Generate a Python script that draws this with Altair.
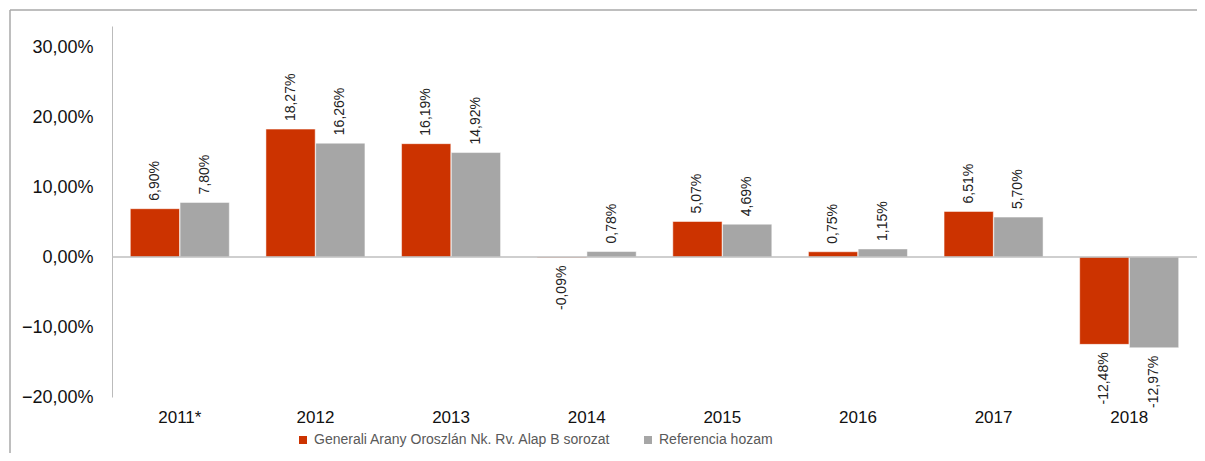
import altair as alt
import pandas as pd

years = ["2011*", "2012", "2013", "2014", "2015", "2016", "2017", "2018"]
series = ["Generali Arany Oroszlán Nk. Rv. Alap B sorozat", "Referencia hozam"]
fund = [6.90, 18.27, 16.19, -0.09, 5.07, 0.75, 6.51, -12.48]
ref = [7.80, 16.26, 14.92, 0.78, 4.69, 1.15, 5.70, -12.97]
y_ticks = [-20, -10, 0, 10, 20, 30]
colors = ["#CC3300", "#A6A6A6"]

rows = []
for i, yr in enumerate(years):
    for s, vals in zip(series, [fund, ref]):
        v = vals[i]
        rows.append({"year": yr, "series": s, "value": v,
                     "label": f"{v:.2f}".replace(".", ",") + "%"})
df = pd.DataFrame(rows)

font = "Liberation Sans"

base = alt.Chart(df).encode(
    x=alt.X("year:N", sort=years, title=None,
            scale=alt.Scale(paddingInner=0.27, paddingOuter=0.135),
            axis=alt.Axis(domain=False, ticks=False, labelAngle=0, labelFontSize=17,
                          labelFont=font, labelColor="#111111", labelPadding=12)),
    xOffset=alt.XOffset("series:N", sort=series, scale=alt.Scale(paddingInner=0.01)),
)

bars = base.mark_bar(stroke="white", strokeWidth=0.5).encode(
    y=alt.Y("value:Q", title=None,
            scale=alt.Scale(domain=[-20, 33], nice=False, zero=False),
            axis=alt.Axis(values=y_ticks, grid=False, ticks=False, domain=True,
                          domainColor="#BBBBBB", domainWidth=1,
                          labelFontSize=18, labelFont=font, labelColor="#111111",
                          labelPadding=19,
                          labelExpr="replace(format(datum.value, '.2f'), '.', ',') + '%'")),
    color=alt.Color("series:N", sort=series,
                    scale=alt.Scale(domain=series, range=colors),
                    legend=alt.Legend(title=None, orient="none", legendX=184, legendY=407,
                                      direction="horizontal", symbolType="square",
                                      symbolSize=64, symbolStrokeWidth=0,
                                      labelFontSize=14, labelFont=font, labelLimit=0,
                                      labelColor="#595959", labelOffset=4,
                                      columnPadding=30, padding=0)),
)

pos_labels = base.transform_filter("datum.value >= 0").mark_text(
    angle=270, align="left", baseline="middle", dx=8, fontSize=14, font=font,
    color="#222222").encode(y="value:Q", text="label:N")

neg_labels = base.transform_filter("datum.value < 0").mark_text(
    angle=270, align="right", baseline="middle", dx=-8, fontSize=14, font=font,
    color="#222222").encode(y="value:Q", text="label:N")

zero_df = pd.DataFrame({"z": [0]})
zero = alt.Chart(zero_df).mark_rule(color="#BFBFBF", strokeWidth=1.5).encode(
    y="z:Q", x=alt.value(0), x2=alt.value(1085))

frame_left = alt.Chart(zero_df).mark_rule(color="#A8A8A8", strokeWidth=1.5, clip=False).encode(
    x=alt.value(-102), y=alt.value(-16), y2=alt.value(440))
frame_top = alt.Chart(zero_df).mark_rule(color="#A8A8A8", strokeWidth=1.5, clip=False).encode(
    y=alt.value(-16), x=alt.value(-102), x2=alt.value(1090))

chart = alt.layer(frame_left, frame_top, bars, zero, pos_labels, neg_labels).properties(
    width=1085, height=371,
    background="white",
    autosize=alt.AutoSizeParams(type="none"),
    padding={"left": 104, "top": 18, "right": 0, "bottom": 56},
).configure_view(stroke=None)

chart.save("out.html", embed_options={"renderer": "svg", "actions": False})
